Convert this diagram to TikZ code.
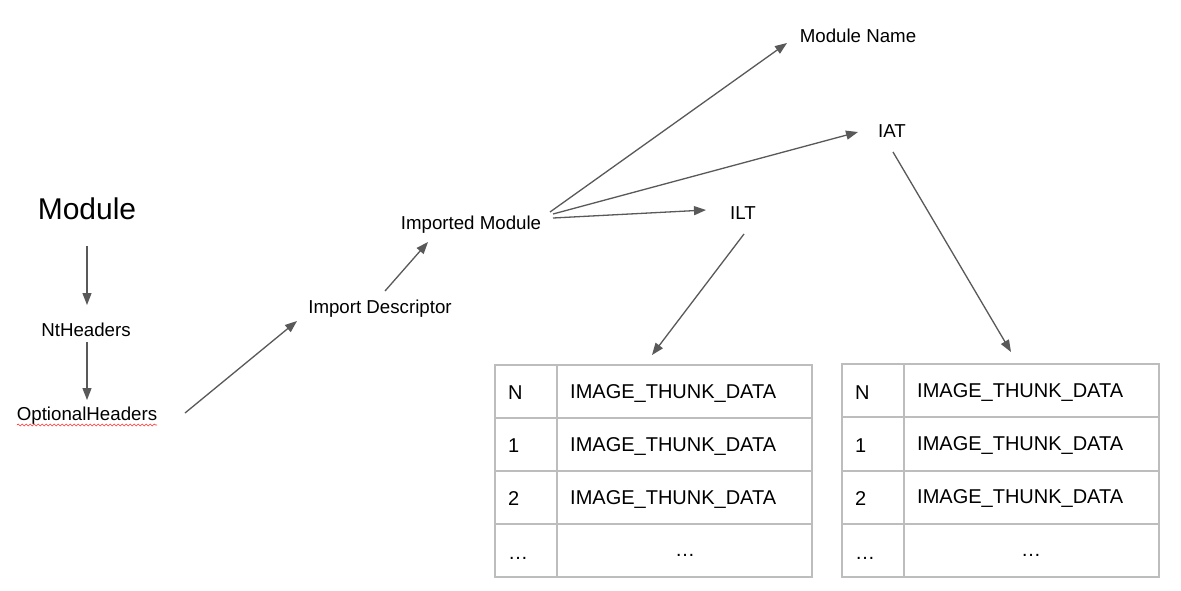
\documentclass[tikz,border=0pt]{standalone}
\usepackage{fontspec}
\setmainfont{Liberation Sans}
\usetikzlibrary{arrows.meta,decorations.pathmorphing}
\definecolor{arrowgray}{HTML}{595959}
\definecolor{gridgray}{HTML}{BDBDBD}
\tikzset{
  conn/.style={draw=arrowgray,line width=1.3pt,-{Triangle[length=12pt,width=9pt]}},
  lbl/.style={inner sep=0pt,anchor=base,font=\fontsize{18.7}{20}\selectfont},
  cell/.style={inner sep=0pt,anchor=base west,font=\fontsize{20}{22}\selectfont},
  cellc/.style={inner sep=0pt,anchor=base,font=\fontsize{20}{22}\selectfont},
  grid/.style={draw=gridgray,line width=1.3pt},
}
\begin{document}
\begin{tikzpicture}[x=1pt,y=-1pt]
\useasboundingbox[fill=white] (0,0) rectangle (1181,590);
% labels
\node[lbl,font=\fontsize{30}{32}\selectfont] (module) at (87,219) {Module};
\node[lbl] (nt) at (86,336) {NtHeaders};
\node[lbl] (opt) at (87,420) {OptionalHeaders};
\node[lbl] (desc) at (380,313) {Import Descriptor};
\node[lbl] (imp) at (471,229) {Imported Module};
\node[lbl] (mname) at (858,42) {Module Name};
\node[lbl] (iat) at (892,137) {IAT};
\node[lbl] (ilt) at (743,219) {ILT};
% spellcheck underline
\draw[red!80,line width=0.6pt,decorate,decoration={snake,amplitude=1pt,segment length=4pt}] (17,425) -- (157,425);
% connector end points
\coordinate (m1) at (87,246); \coordinate (m2) at (87,305);
\coordinate (n1) at (87,342); \coordinate (n2) at (87,400);
\coordinate (o1) at (185,413); \coordinate (o2) at (297,321);
\coordinate (d1) at (385,291); \coordinate (d2) at (428,242);
\coordinate (i1) at (550,212); \coordinate (i2) at (787,43);
\coordinate (i3) at (553,214); \coordinate (i4) at (858,132);
\coordinate (i5) at (553,218); \coordinate (i6) at (706,210);
\coordinate (l1) at (744,234); \coordinate (l2) at (652,355);
\coordinate (a1) at (893,152); \coordinate (a2) at (1011,352);
\draw[conn] (m1) -- (m2);
\draw[conn] (n1) -- (n2);
\draw[conn] (o1) -- (o2);
\draw[conn] (d1) -- (d2);
\draw[conn] (i1) -- (i2);
\draw[conn] (i3) -- (i4);
\draw[conn] (i5) -- (i6);
\draw[conn] (l1) -- (l2);
\draw[conn] (a1) -- (a2);
% table 1 (ILT)
\draw[grid] (495,365) rectangle (812,577);
\draw[grid] (557,365) -- (557,577);
\foreach \y in {418,471,524} \draw[grid] (495,\y) -- (812,\y);
\node[cell] (t1n) at (508,399) {N};
\node[cell] (t1a) at (570,398) {IMAGE\_THUNK\_DATA};
\node[cell] (t1one) at (508,452) {1};
\node[cell] (t1b) at (570,451) {IMAGE\_THUNK\_DATA};
\node[cell] (t1two) at (508,505) {2};
\node[cell] (t1c) at (570,504) {IMAGE\_THUNK\_DATA};
\node[cell] (t1d) at (508,559) {\dots};
\node[cellc] (t1e) at (685,556) {\dots};
% table 2 (IAT)
\draw[grid] (842,364) rectangle (1159,577);
\draw[grid] (904,364) -- (904,577);
\foreach \y in {417,471,524} \draw[grid] (842,\y) -- (1159,\y);
\node[cell] (t2n) at (855,399) {N};
\node[cell] (t2a) at (917,397) {IMAGE\_THUNK\_DATA};
\node[cell] (t2one) at (855,452) {1};
\node[cell] (t2b) at (917,450) {IMAGE\_THUNK\_DATA};
\node[cell] (t2two) at (855,505) {2};
\node[cell] (t2c) at (917,503) {IMAGE\_THUNK\_DATA};
\node[cell] (t2d) at (855,559) {\dots};
\node[cellc] (t2e) at (1031,556) {\dots};
\end{tikzpicture}
\end{document}
